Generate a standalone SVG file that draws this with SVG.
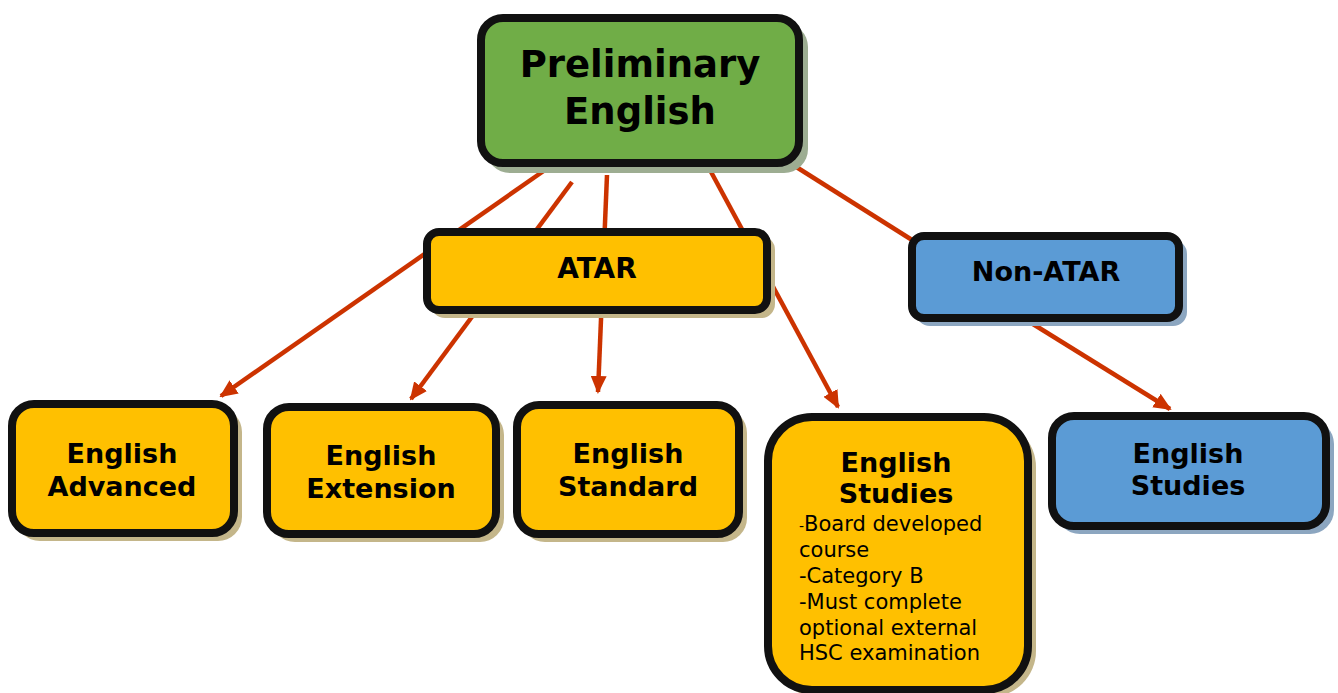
<svg xmlns="http://www.w3.org/2000/svg" width="1338" height="693" viewBox="0 0 1338 693">
<defs>
<marker id="arr" markerUnits="userSpaceOnUse" markerWidth="18" markerHeight="16" refX="16" refY="8" orient="auto">
<path d="M0,0 L18,8 L0,16 Z" fill="#cc3300"/>
</marker>
</defs>
<style>
.box{stroke:#111;stroke-width:8}
.g{fill:#70ad47}
.y{fill:#ffc000}
.b{fill:#5b9bd5}
.sg{fill:#9dad92}
.sy{fill:#c4b68a}
.sb{fill:#8ca6c0}
.t{font-family:"DejaVu Sans",Verdana,sans-serif;font-weight:bold;fill:#000;text-anchor:middle}
.r{font-family:"DejaVu Sans",Verdana,sans-serif;font-size:21px;fill:#000}
.c{stroke:#cc3300;stroke-width:4.5;fill:none}
</style>
<rect width="1338" height="693" fill="#fff"/>
<g id="connectors">
<line class="c" x1="545" y1="170" x2="221" y2="396" marker-end="url(#arr)"/>
<line class="c" x1="572" y1="182" x2="411" y2="399" marker-end="url(#arr)"/>
<line class="c" x1="607" y1="175" x2="598" y2="392" marker-end="url(#arr)"/>
<line class="c" x1="710" y1="170" x2="838" y2="407" marker-end="url(#arr)"/>
<line class="c" x1="790" y1="163" x2="920" y2="245"/>
<line class="c" x1="1020" y1="316" x2="1170" y2="409" marker-end="url(#arr)"/>
</g>
<g id="preliminary">
<rect class="sg" x="486" y="23" width="322" height="150" rx="24"/>
<rect class="box g" x="481" y="18" width="318" height="145" rx="22"/>
<text class="t" x="640" y="77" font-size="37">Preliminary</text>
<text class="t" x="640" y="124" font-size="37">English</text>
</g>
<g id="atar">
<rect class="sy" x="431" y="236" width="344" height="82" rx="14"/>
<rect class="box y" x="427" y="232" width="340" height="78" rx="12"/>
<text class="t" x="597" y="278" font-size="28">ATAR</text>
</g>
<g id="nonatar">
<rect class="sb" x="916" y="240" width="271" height="86" rx="14"/>
<rect class="box b" x="912" y="236" width="267" height="82" rx="12"/>
<text class="t" x="1046" y="281" font-size="27">Non-ATAR</text>
</g>
<g id="advanced">
<rect class="sy" x="16" y="408" width="226" height="133" rx="24"/>
<rect class="box y" x="12" y="404" width="222" height="129" rx="22"/>
<text class="t" x="122" y="463" font-size="27">English</text>
<text class="t" x="122" y="496" font-size="27">Advanced</text>
</g>
<g id="extension">
<rect class="sy" x="271" y="411" width="233" height="131" rx="24"/>
<rect class="box y" x="267" y="407" width="229" height="127" rx="22"/>
<text class="t" x="381" y="465" font-size="27">English</text>
<text class="t" x="381" y="498" font-size="27">Extension</text>
</g>
<g id="standard">
<rect class="sy" x="521" y="409" width="226" height="133" rx="24"/>
<rect class="box y" x="517" y="405" width="222" height="129" rx="22"/>
<text class="t" x="628" y="463" font-size="27">English</text>
<text class="t" x="628" y="496" font-size="27">Standard</text>
</g>
<g id="studies-atar">
<rect class="sy" x="772" y="421" width="264" height="276" rx="46"/>
<rect class="box y" x="768" y="417" width="260" height="273" rx="44"/>
<text class="t" x="896" y="472" font-size="27">English</text>
<text class="t" x="896" y="503" font-size="27">Studies</text>
<text class="r" x="799" y="531"><tspan font-size="14">-</tspan>Board developed</text>
<text class="r" x="799" y="557">course</text>
<text class="r" x="799" y="583">-Category B</text>
<text class="r" x="799" y="609">-Must complete</text>
<text class="r" x="799" y="635">optional external</text>
<text class="r" x="799" y="660">HSC examination</text>
</g>
<g id="studies-nonatar">
<rect class="sb" x="1056" y="420" width="278" height="114" rx="24"/>
<rect class="box b" x="1052" y="416" width="274" height="110" rx="22"/>
<text class="t" x="1188" y="463" font-size="27">English</text>
<text class="t" x="1188" y="495" font-size="27">Studies</text>
</g>
</svg>
